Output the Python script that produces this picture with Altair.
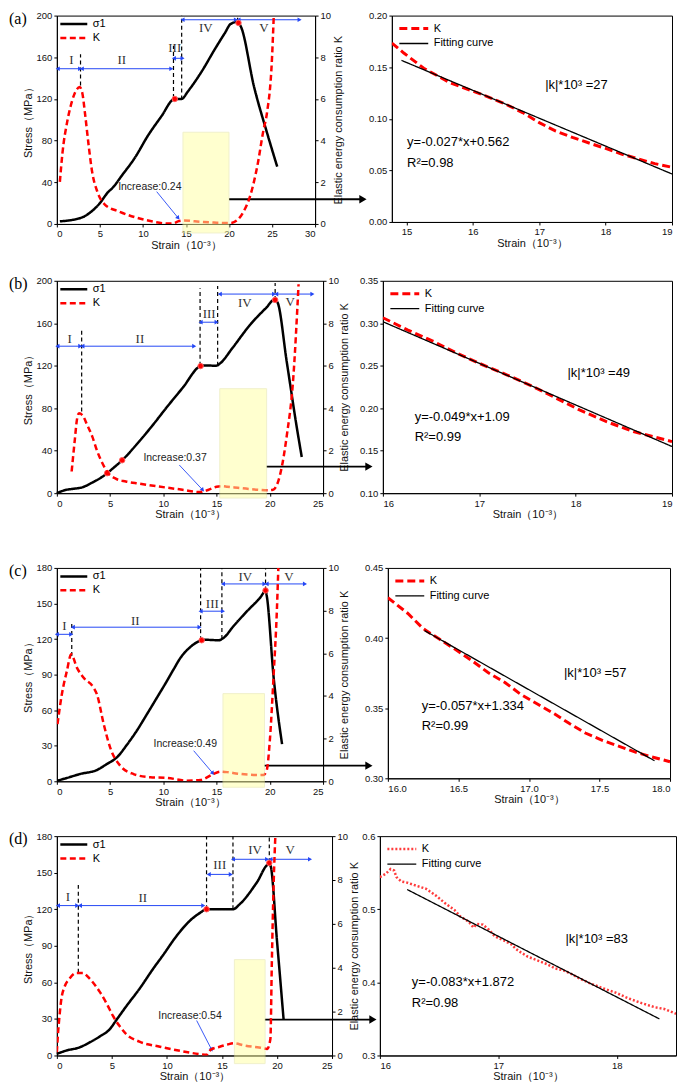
import math
import altair as alt
import pandas as pd

SANS = "Liberation Sans"
SERIF = "Liberation Serif"
RED = "#FF0000"
BLUE = "#2447F5"
ZONES = ["I", "II", "III", "IV", "V"]
X_TITLE = "Strain（10⁻³）"
Y_TITLE = "Stress（MPa）"
K_TITLE = "Elastic energy consumption ratio K"

# ---------------- panel (a) ----------------
A_S_X = [0.35, 2.95, 3.5, 4.9, 6.0, 6.4, 7.6, 9.1, 10.6, 12.2, 13.5, 13.7, 14.5, 15.2, 16.8, 18.3, 19.5, 20.2, 21.0, 21.4, 22.9, 24.4, 25.6]
A_S_Y = [2.5, 6.3, 8.8, 19, 31, 34, 47, 64, 85, 104, 119.4, 120, 120, 127, 146, 167, 183, 192, 194, 189, 132, 88, 55]
A_K_X = [0.35, 0.65, 1.2, 1.6, 2.3, 2.65, 2.95, 3.3, 3.7, 4.1, 4.7, 5.6, 7.2, 9.1, 11.0, 12.9, 13.5, 14.2, 14.8, 16.0, 17.0, 18.0, 19.0, 20.2, 21.0, 21.7, 22.5, 23.3, 24.0, 24.4, 25.0, 25.2]
A_K_Y = [2.02, 3.4, 4.9, 5.65, 6.45, 6.57, 6.3, 5.2, 3.75, 2.5, 1.55, 0.92, 0.6, 0.32, 0.13, 0.02, 0.03, 0.14, 0.17, 0.127, 0.097, 0.072, 0.053, 0.05, 0.2, 0.6, 1.4, 2.8, 4.5, 5.3, 8.0, 10]
A_VL_X = [2.75, 13.55, 14.5, 21.0]
A_VL_Y1 = [133, 121, 119.5, 194]
A_VL_Y2 = [163, 171, 200, 200]
A_Z_X1 = [0.1, 2.9, 13.6, 14.6, 21.1]
A_Z_X2 = [2.7, 13.3, 14.6, 20.8, 28.2]
A_Z_Y = [149, 149, 159, 196, 196]
A_Z_TX = [1.7, 7.55, 13.7, 17.3, 24.05]
A_Z_TY = [157, 157, 169, 188, 188]
A_MK_X = [13.7, 21.1]
A_MK_Y = [120, 193]
A_BOX = [14.65, 20.0, 4.4, -0.43]
A_INC = "Increase:0.24"
A_INC_T = [10.8, 35.7]
A_INC_A = [11.6, 31, 14.1, 5.7]
A_OUT = [20.0, 23.7]

RA_X = [14.78, 14.96, 15.26, 15.66, 16.0, 16.2, 16.5, 16.75, 17.0, 17.25, 17.5, 17.8, 18.0, 18.24, 18.5, 18.74, 19.0]
RA_K = [0.1734, 0.1637, 0.149, 0.1348, 0.1268, 0.122, 0.114, 0.106, 0.0963, 0.088, 0.082, 0.0754, 0.0713, 0.0658, 0.061, 0.0565, 0.053]
RA_FX = [14.925, 19.0]
RA_FY = [0.1566, 0.0465]
RA_TXT = ["|k|*10³ =27", "y=-0.027*x+0.562", "R²=0.98"]
RA_TX = [17.56, 15.01, 15.01]
RA_TY = [0.1327, 0.077, 0.057]

# ---------------- panel (b) ----------------
B_S_X = [0, 0.82, 1.45, 2.39, 3.33, 4.28, 4.72, 5.22, 6.13, 7.74, 9.0, 10.25, 11.8, 13.5, 13.87, 14.97, 15.3, 16.55, 18.1, 19.7, 20.4, 20.7, 21.6, 22.5, 23.0]
B_S_Y = [0, 3, 4, 5.5, 10, 15.5, 18.8, 23, 31, 48.8, 64, 80, 99, 119.7, 120.3, 120, 122, 137.5, 158, 175, 182, 180, 123, 64, 34]
B_K_X = [1.39, 1.51, 1.70, 1.86, 2.08, 2.39, 2.86, 3.33, 3.8, 4.28, 4.75, 5.53, 6.48, 7.74, 9.6, 11.8, 13.4, 14.2, 15.0, 15.6, 16.0, 17.0, 18.0, 19.0, 19.8, 20.3, 20.96, 21.6, 22.2, 22.7]
B_K_Y = [1.02, 1.64, 2.58, 3.37, 3.76, 3.68, 3.2, 2.66, 1.96, 1.41, 0.99, 0.68, 0.55, 0.45, 0.31, 0.16, 0.05, 0.15, 0.3, 0.33, 0.306, 0.253, 0.2, 0.16, 0.14, 0.16, 0.86, 2.73, 5.4, 9.84]
B_VL_X = [2.33, 13.45, 15.1, 20.5]
B_VL_Y1 = [77, 120, 120, 182]
B_VL_Y2 = [155, 193, 195, 198]
B_Z_X1 = [0.05, 2.4, 13.5, 15.3, 20.6]
B_Z_X2 = [2.2, 12.9, 15.0, 20.4, 24.0]
B_Z_Y = [138.4, 138.4, 161, 187.5, 187.5]
B_Z_TX = [1.2, 7.8, 14.3, 17.65, 21.9]
B_Z_TY = [145, 145, 169, 179, 180]
B_MK_X = [4.72, 6.13, 13.5, 20.5]
B_MK_Y = [18.8, 31, 119.7, 182]
B_BOX = [15.3, 19.7, 4.92, -0.23]
B_INC = "Increase:0.37"
B_INC_T = [11.1, 33]
B_INC_A = [11.5, 26.5, 13.7, 3]
B_OUT = [19.7, 25]

RB_X = [16.0, 16.26, 16.53, 16.77, 17.0, 17.29, 17.56, 17.8, 18.04, 18.32, 18.6, 19.0]
RB_K = [0.3065, 0.292, 0.2783, 0.2646, 0.2528, 0.2391, 0.2254, 0.2117, 0.198, 0.1842, 0.1725, 0.1607]
RB_FX = [16.0, 19.0]
RB_FY = [0.3018, 0.1549]
RB_TXT = ["|k|*10³ =49", "y=-0.049*x+1.09", "R²=0.99"]
RB_TX = [18.24, 16.33, 16.33]
RB_TY = [0.241, 0.19, 0.1666]

# ---------------- panel (c) ----------------
C_S_X = [0.06, 0.94, 2.2, 3.76, 4.7, 5.64, 6.58, 7.5, 8.46, 9.4, 10.34, 11.0, 11.6, 12.5, 13.6, 13.9, 15.2, 15.66, 16.6, 17.86, 19.1, 19.6, 19.7, 20.36, 21.15]
C_S_Y = [0.5, 2.8, 6.2, 9.5, 14.6, 20.2, 30.8, 42.6, 56.6, 70.6, 84.7, 95, 104, 113, 119, 119.4, 119, 121, 131, 143.5, 155, 160.5, 157, 87.5, 31.4]
C_K_X = [0.06, 0.47, 0.94, 1.35, 1.88, 2.5, 3.45, 3.76, 4.4, 5.0, 5.95, 7.2, 8.77, 10.34, 12.2, 13.5, 14.7, 15.35, 16.0, 17.0, 18.0, 19.0, 19.4, 19.7, 20.0, 20.36, 20.67, 20.8]
C_K_Y = [2.68, 4.08, 5.17, 5.95, 5.33, 4.86, 4.39, 4.08, 2.68, 1.59, 0.73, 0.34, 0.19, 0.16, 0.03, 0.06, 0.34, 0.45, 0.43, 0.356, 0.312, 0.29, 0.3, 0.5, 1.9, 5.0, 8.1, 10]
C_VL_X = [1.4, 13.5, 15.5, 19.6]
C_VL_Y1 = [105.7, 119, 120, 161]
C_VL_Y2 = [133.7, 180, 180, 180]
C_Z_X1 = [0.0, 1.5, 13.5, 15.6, 19.7]
C_Z_X2 = [1.35, 13.4, 15.6, 19.5, 23.3]
C_Z_Y = [124, 130, 143.5, 166.5, 166.5]
C_Z_TX = [0.72, 7.36, 14.6, 17.7, 21.8]
C_Z_TY = [131, 135, 149.7, 172, 172]
C_MK_X = [13.6, 19.6]
C_MK_Y = [119, 161]
C_BOX = [15.6, 19.5, 4.11, -0.28]
C_INC = "Increase:0.49"
C_INC_T = [12.06, 31.4]
C_INC_A = [12.85, 25.8, 14.66, 6.7]
C_OUT = [19.5, 13.2]

RC_X = [16.0, 16.14, 16.25, 16.37, 16.48, 16.6, 16.71, 16.83, 16.94, 17.06, 17.18, 17.29, 17.4, 17.52, 17.64, 17.75, 17.87, 18.0]
RC_K = [0.4288, 0.4177, 0.4067, 0.3989, 0.3918, 0.3836, 0.3754, 0.3683, 0.36, 0.353, 0.346, 0.3389, 0.3323, 0.3271, 0.3228, 0.3188, 0.3153, 0.3118]
RC_FX = [16.26, 17.89]
RC_FY = [0.4053, 0.3125]
RC_TXT = ["|k|*10³ =57", "y=-0.057*x+1.334", "R²=0.99"]
RC_TX = [17.47, 16.24, 16.24]
RC_TY = [0.3754, 0.3518, 0.3372]

# ---------------- panel (d) ----------------
D_S_X = [0, 0.85, 2.07, 2.98, 3.9, 4.8, 5.4, 6.3, 7.53, 8.75, 9.66, 10.87, 12.1, 13.0, 13.6, 16.0, 16.6, 18.17, 19.23, 19.4, 20.0, 20.6]
D_S_Y = [1.3, 4, 6.7, 10.7, 15.6, 21.5, 29, 40.3, 55, 71.2, 82.5, 98, 110.7, 117, 120, 120, 124, 142, 156.6, 155.8, 94, 29.5]
D_K_X = [0, 0.09, 0.24, 0.4, 0.7, 1.15, 1.76, 2.37, 2.98, 3.9, 4.5, 5.1, 5.7, 6.3, 7.5, 9.36, 11.2, 13.0, 13.6, 14.0, 14.8, 15.5, 16.1, 17.0, 18.0, 18.5, 19.1, 19.4, 19.53, 19.7, 19.85]
D_K_Y = [0.15, 0.9, 1.8, 2.54, 3.13, 3.5, 3.76, 3.76, 3.5, 2.9, 2.39, 1.8, 1.34, 0.97, 0.63, 0.4, 0.21, 0.06, 0.03, 0.27, 0.4, 0.5, 0.555, 0.46, 0.386, 0.357, 0.3, 0.75, 4.2, 7.9, 10]
D_VL_X = [1.95, 13.6, 16.0, 19.3]
D_VL_Y1 = [68, 120, 120, 158.5]
D_VL_Y2 = [142, 180, 180, 180]
D_Z_X1 = [0.1, 2.1, 13.8, 16.0, 19.4]
D_Z_X2 = [1.85, 13.3, 15.8, 19.1, 23.0]
D_Z_Y = [123, 123, 148.6, 161, 161]
D_Z_TX = [1.0, 7.8, 14.8, 18.0, 21.2]
D_Z_TY = [130, 129, 156.6, 168.7, 168.7]
D_MK_X = [13.6, 19.3]
D_MK_Y = [120, 158]
D_BOX = [16.13, 18.92, 4.37, -0.37]
D_INC = "Increase:0.54"
D_INC_T = [12.1, 32.2]
D_INC_A = [12.7, 28.7, 14.06, 4.8]
D_OUT = [18.9, 29.5]

RD_X = [16.0, 16.05, 16.09, 16.12, 16.14, 16.18, 16.23, 16.31, 16.39, 16.47, 16.56, 16.63, 16.68, 16.75, 16.79, 16.82, 16.87, 16.92, 16.97, 17.05, 17.11, 17.15, 17.19, 17.25, 17.33, 17.41, 17.48, 17.55, 17.61, 17.69, 17.77, 17.88, 17.99, 18.1, 18.21, 18.32, 18.4, 18.5]
RD_K = [0.544, 0.5485, 0.555, 0.553, 0.544, 0.538, 0.5364, 0.532, 0.528, 0.519, 0.507, 0.499, 0.49, 0.483, 0.475, 0.48, 0.479, 0.472, 0.463, 0.457, 0.452, 0.4455, 0.441, 0.435, 0.43, 0.425, 0.419, 0.4164, 0.412, 0.405, 0.399, 0.392, 0.386, 0.378, 0.3716, 0.366, 0.3636, 0.357]
RD_FX = [16.23, 18.36]
RD_FY = [0.527, 0.35]
RD_TXT = ["|k|*10³ =83", "y=-0.083*x+1.872", "R²=0.98"]
RD_TX = [17.83, 16.27, 16.27]
RD_TY = [0.459, 0.40, 0.372]


def one_row():
    return pd.DataFrame({"o": [0]})


def left_panel(tag, field, w, h, xmax, ymax, ystep, sx_, sy_, kx_, ky_, vlx, vly1, vly2,
               zx1, zx2, zy, ztx, zty, mkx, mky, box, inc, inc_t, inc_a, out, out_end, k_pad):
    sx = alt.Scale(domain=[0, xmax], nice=False, zero=False)
    sy = alt.Scale(domain=[0, ymax], nice=False, zero=False)
    sk = alt.Scale(domain=[0, 10], nice=False, zero=False)
    names = ["σ1", "K"]
    cscale = alt.Scale(domain=names, range=["black", RED])
    dscale = alt.Scale(domain=names, range=[[1, 0], [6, 3.5]])
    leg = alt.Legend(title=None, orient="top-left", offset=1, padding=1, symbolType="stroke",
                     symbolSize=730, symbolStrokeWidth=2.5, labelFont=SANS, labelFontSize=11,
                     rowPadding=1, labelOffset=4, clipHeight=13)
    xvals = list(range(0, xmax + 1, 5))
    yvals = list(range(0, ymax + 1, ystep))
    kvals = [0, 2, 4, 6, 8, 10]
    xaxis = alt.Axis(values=xvals, tickCount=len(xvals), title=X_TITLE, titlePadding=1, labelOverlap=False)
    yaxis = alt.Axis(orient="left", values=yvals, tickCount=len(yvals), title=Y_TITLE, titlePadding=3,
                     labelOverlap=False)
    kaxis = alt.Axis(orient="right", values=kvals, tickCount=len(kvals), title=K_TITLE, titleAngle=270,
                     titleBaseline="top", titlePadding=k_pad, labelOverlap=False)

    sdf = pd.DataFrame({"x": sx_, "y": sy_, field: "σ1"})
    stress = alt.Chart(sdf).mark_line(strokeWidth=2.5, strokeJoin="round", interpolate="monotone").encode(
        x=alt.X("x:Q", scale=sx, axis=xaxis),
        y=alt.Y("y:Q", scale=sy, axis=yaxis),
        color=alt.Color(field + ":N", scale=cscale, legend=leg),
        strokeDash=alt.StrokeDash(field + ":N", scale=dscale, legend=leg),
    )
    vdf = pd.DataFrame({"x": vlx, "y": vly1, "y2": vly2})
    vlines = alt.Chart(vdf).mark_rule(color="black", strokeWidth=1.2, strokeDash=[4, 3]).encode(
        x="x:Q", y="y:Q", y2="y2:Q")
    zdf = pd.DataFrame({"x": zx1, "x2": zx2, "y": zy})
    zrule = alt.Chart(zdf).mark_rule(color=BLUE, strokeWidth=1).encode(x="x:Q", x2="x2:Q", y="y:Q")
    zl = alt.Chart(zdf).mark_point(shape="triangle-left", filled=True, color=BLUE, size=22, opacity=1).encode(
        x="x:Q", y="y:Q")
    zr = alt.Chart(zdf).mark_point(shape="triangle-right", filled=True, color=BLUE, size=22, opacity=1).encode(
        x=alt.X("x2:Q"), y="y:Q")
    tdf = pd.DataFrame({"x": ztx, "y": zty, "t": ZONES})
    ztext = alt.Chart(tdf).mark_text(font=SERIF, fontSize=13, color="#333333").encode(
        x="x:Q", y="y:Q", text="t:N")
    mdf = pd.DataFrame({"x": mkx, "y": mky})
    marks = alt.Chart(mdf).mark_point(shape="circle", filled=True, color=RED, size=30, opacity=1,
                                      stroke="#FF6060", strokeWidth=1).encode(x="x:Q", y="y:Q")
    idf = pd.DataFrame({"x": [inc_t[0]], "y": [inc_t[1]], "t": [inc]})
    itext = alt.Chart(idf).mark_text(font=SANS, fontSize=10.5, color="#222222").encode(
        x="x:Q", y="y:Q", text="t:N")
    adf = pd.DataFrame({"x": [inc_a[0]], "y": [inc_a[1]], "x2": [inc_a[2]], "y2": [inc_a[3]]})
    arule = alt.Chart(adf).mark_rule(color=BLUE, strokeWidth=0.9).encode(
        x="x:Q", y="y:Q", x2="x2:Q", y2="y2:Q")
    dxp = (inc_a[2] - inc_a[0]) * w / xmax
    dyp = (inc_a[1] - inc_a[3]) * h / ymax
    ang = math.degrees(math.atan2(dxp, -dyp)) % 360
    hdf = pd.DataFrame({"x": [inc_a[2]], "y": [inc_a[3]]})
    ahead = alt.Chart(hdf).mark_point(shape="triangle-up", filled=True, color=BLUE, size=22, opacity=1,
                                      angle=ang).encode(x="x:Q", y="y:Q")
    odf = pd.DataFrame({"x": [out[0]], "y": [out[1]]})
    orule = alt.Chart(odf).mark_rule(color="black", strokeWidth=1.8).encode(
        x="x:Q", x2=alt.value(out_end - 4), y="y:Q")
    ohead = alt.Chart(odf).mark_point(shape="triangle-right", filled=True, color="black", size=70,
                                      opacity=1).encode(x=alt.value(out_end - 4), y="y:Q")
    label = alt.Chart(one_row()).mark_text(text=tag, font=SERIF, fontSize=16, align="left",
                                           baseline="middle", color="black").encode(
        x=alt.value(-48), y=alt.value(3))
    sgroup = alt.layer(stress, vlines, zrule, zl, zr, ztext, marks, itext, arule, ahead, orule, ohead, label)

    kdf = pd.DataFrame({"x": kx_, "k": ky_, field: "K"})
    kline = alt.Chart(kdf).mark_line(strokeWidth=2.5, interpolate="monotone", clip=True).encode(
        x=alt.X("x:Q", scale=sx),
        y=alt.Y("k:Q", scale=sk, axis=kaxis),
        color=alt.Color(field + ":N", scale=cscale, legend=leg),
        strokeDash=alt.StrokeDash(field + ":N", scale=dscale, legend=leg),
    )
    bdf = pd.DataFrame({"x": [box[0]], "x2": [box[1]], "k": [box[2]], "k2": [box[3]]})
    brect = alt.Chart(bdf).mark_rect(fill="#FFFFA0", opacity=0.5, stroke="#E4E49A", strokeWidth=1).encode(
        x="x:Q", x2="x2:Q", y="k:Q", y2="k2:Q")
    kgroup = alt.layer(kline, brect)
    return alt.layer(sgroup, kgroup).resolve_scale(y="independent").properties(width=w, height=h)


def right_panel(field, w, h, xdom, xvals, xfmt, ydom, yvals, yfmt, kx_, ky_, fx, fy, txt, tx, ty,
                kdash, kwidth, kcolor):
    sx = alt.Scale(domain=xdom, nice=False, zero=False)
    sy = alt.Scale(domain=ydom, nice=False, zero=False)
    names = ["K", "Fitting curve"]
    cscale = alt.Scale(domain=names, range=[kcolor, "black"])
    dscale = alt.Scale(domain=names, range=[kdash, [1, 0]])
    wscale = alt.Scale(domain=names, range=[kwidth, 1.3])
    leg = alt.Legend(title=None, orient="top-left", offset=5, padding=1, symbolType="stroke",
                     symbolSize=840, labelFont=SANS, labelFontSize=11, rowPadding=1, labelOffset=4,
                     clipHeight=14)
    xaxis = alt.Axis(values=xvals, tickCount=len(xvals), format=xfmt, title=X_TITLE, titlePadding=1,
                     labelOverlap=False)
    yaxis = alt.Axis(values=yvals, tickCount=len(yvals), format=yfmt, title=None, labelOverlap=False)
    kdf = pd.DataFrame({"x": kx_, "k": ky_, field: "K"})
    fdf = pd.DataFrame({"x": fx, "k": fy, field: "Fitting curve"})
    enc = dict(
        x=alt.X("x:Q", scale=sx, axis=xaxis),
        y=alt.Y("k:Q", scale=sy, axis=yaxis),
        color=alt.Color(field + ":N", scale=cscale, legend=leg),
        strokeDash=alt.StrokeDash(field + ":N", scale=dscale, legend=leg),
        strokeWidth=alt.StrokeWidth(field + ":N", scale=wscale, legend=leg),
    )
    kline = alt.Chart(kdf).mark_line(clip=True).encode(**enc)
    fline = alt.Chart(fdf).mark_line(clip=True).encode(**enc)
    cdf = pd.DataFrame({"x": [tx[0]], "k": [ty[0]], "t": [txt[0]]})
    ldf = pd.DataFrame({"x": tx[1:], "k": ty[1:], "t": txt[1:]})
    ctext = alt.Chart(cdf).mark_text(font=SANS, fontSize=13, color="black").encode(
        x="x:Q", y="k:Q", text="t:N")
    ltext = alt.Chart(ldf).mark_text(font=SANS, fontSize=13, color="black", align="left").encode(
        x="x:Q", y="k:Q", text="t:N")
    return alt.layer(kline, fline, ctext, ltext).properties(width=w, height=h)


RES = dict(color="independent", strokeDash="independent", strokeWidth="independent")

la = left_panel("(a)", "sa", 259, 209, 30, 200, 40, A_S_X, A_S_Y, A_K_X, A_K_Y, A_VL_X, A_VL_Y1, A_VL_Y2,
                A_Z_X1, A_Z_X2, A_Z_Y, A_Z_TX, A_Z_TY, A_MK_X, A_MK_Y, A_BOX, A_INC, A_INC_T, A_INC_A,
                A_OUT, 311, 2)
ra = right_panel("ra", 281, 207, [14.78, 19.0], [15, 16, 17, 18, 19], "d", [0, 0.2],
                 [0, 0.05, 0.1, 0.15, 0.2], ".2f", RA_X, RA_K, RA_FX, RA_FY, RA_TXT, RA_TX, RA_TY,
                 [8, 4], 3, RED)
lb = left_panel("(b)", "sb", 267, 213, 25, 200, 40, B_S_X, B_S_Y, B_K_X, B_K_Y, B_VL_X, B_VL_Y1, B_VL_Y2,
                B_Z_X1, B_Z_X2, B_Z_Y, B_Z_TX, B_Z_TY, B_MK_X, B_MK_Y, B_BOX, B_INC, B_INC_T, B_INC_A,
                B_OUT, 317, 0)
rb = right_panel("rb", 290, 213, [16, 19], [16, 17, 18, 19], "d", [0.1, 0.35],
                 [0.1, 0.15, 0.2, 0.25, 0.3, 0.35], ".2f", RB_X, RB_K, RB_FX, RB_FY, RB_TXT, RB_TX, RB_TY,
                 [8, 4], 3, RED)
lc = left_panel("(c)", "sc", 267, 214, 25, 180, 30, C_S_X, C_S_Y, C_K_X, C_K_Y, C_VL_X, C_VL_Y1, C_VL_Y2,
                C_Z_X1, C_Z_X2, C_Z_Y, C_Z_TX, C_Z_TY, C_MK_X, C_MK_Y, C_BOX, C_INC, C_INC_T, C_INC_A,
                C_OUT, 317, 0)
rc = right_panel("rc", 283, 211, [16, 18], [16.0, 16.5, 17.0, 17.5, 18.0], ".1f", [0.3, 0.45],
                 [0.3, 0.35, 0.4, 0.45], ".2f", RC_X, RC_K, RC_FX, RC_FY, RC_TXT, RC_TX, RC_TY,
                 [8, 4], 3, RED)
ld = left_panel("(d)", "sd", 276, 220, 25, 180, 30, D_S_X, D_S_Y, D_K_X, D_K_Y, D_VL_X, D_VL_Y1, D_VL_Y2,
                D_Z_X1, D_Z_X2, D_Z_Y, D_Z_TX, D_Z_TY, D_MK_X, D_MK_Y, D_BOX, D_INC, D_INC_T, D_INC_A,
                D_OUT, 321, 1)
rd = right_panel("rd", 297, 220, [16, 18.5], [16, 17, 18], "d", [0.3, 0.6],
                 [0.3, 0.4, 0.5, 0.6], ".1f", RD_X, RD_K, RD_FX, RD_FY, RD_TXT, RD_TX, RD_TY,
                 [2, 2], 2.5, "#FF3B3B")

row_a = alt.hconcat(la, ra, spacing=0).resolve_scale(**RES)
row_b = alt.hconcat(lb, rb, spacing=-15).resolve_scale(**RES)
row_c = alt.hconcat(lc, rc, spacing=-10).resolve_scale(**RES)
row_d = alt.hconcat(ld, rd, spacing=-17).resolve_scale(**RES)
top = alt.vconcat(row_a, row_b, spacing=24).resolve_scale(**RES)
bottom = alt.vconcat(row_c, row_d, spacing=22).resolve_scale(**RES)

chart = (
    alt.vconcat(top, bottom, spacing=42)
    .resolve_scale(**RES)
    .properties(padding=0, background="white")
    .configure_view(stroke="black", strokeWidth=1)
    .configure_axis(labelFont=SANS, labelFontSize=9.5, labelColor="#111111", titleFont=SANS,
                    titleFontSize=11, titleFontWeight="normal", titleColor="#111111",
                    domainColor="black", tickColor="black", tickSize=3, labelPadding=2, grid=False,
                    labelOverlap=False)
)

chart.save("out.html", embed_options={"renderer": "svg", "actions": False})
